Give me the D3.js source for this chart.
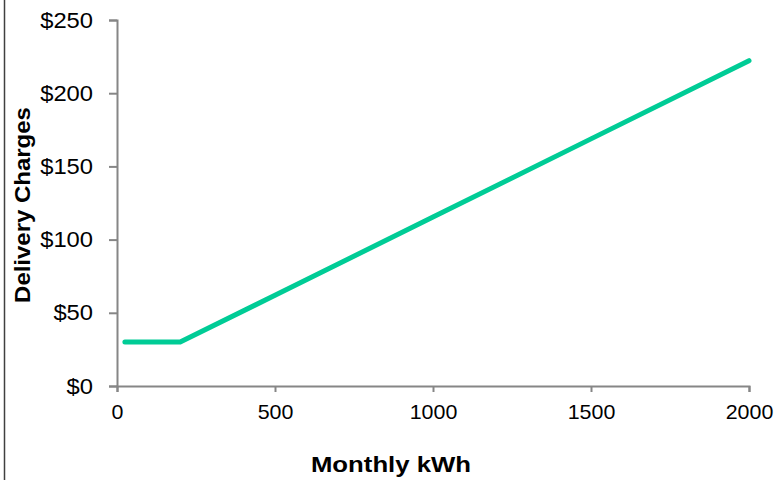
<!DOCTYPE html>
<html>
<head>
<meta charset="utf-8">
<script src="https://d3js.org/d3.v7.min.js"></script>
<style>
  body { margin: 0; background: #fff; }
  text { font-family: "Liberation Sans", Arial, sans-serif; fill: #000; }
</style>
</head>
<body>
<svg width="774" height="480"></svg>
<script>
// monthly usage (kWh) and delivery charge ($)
var kwh     = [25, 100, 200, 500, 1000, 1500, 2000];
var charges = [30, 30, 30, 62, 115.4, 168.8, 222.2];
var xTicks  = [0, 500, 1000, 1500, 2000];
var yTicks  = [0, 50, 100, 150, 200, 250];

var svg = d3.select("svg");

//frame line on the left
svg.append("line")
    .attr("x1", 4.5).attr("x2", 4.5)
    .attr("y1", 0).attr("y2", 480)
    .attr("stroke", "#404040")
    .attr("stroke-width", 1.5);

var x = d3.scaleLinear().domain([0, 2000]).range([117, 749]);
var y = d3.scaleLinear().domain([0, 250]).range([386, 20]);

var axisColor = "#868686";
var stretch = 1.08;   // the reference's type is a bit wider than Arial

//y axis
var gy = svg.append("g")
    .attr("transform", "translate(117,0)")
    .call(d3.axisLeft(y).tickValues(yTicks).tickSize(8).tickPadding(16)
      .tickFormat(function(d) { return "$" + d; }));

//x axis
var gx = svg.append("g")
    .attr("transform", "translate(0,386)")
    .call(d3.axisBottom(x).tickValues(xTicks).tickSize(6).tickPadding(12)
      .tickFormat(d3.format("d")));

[gx, gy].forEach(function(g) {
  g.select(".domain").attr("stroke", axisColor).attr("stroke-width", 2);
  g.selectAll(".tick line").attr("stroke", axisColor).attr("stroke-width", 2);
  g.selectAll(".tick text")
    .attr("font-family", "Liberation Sans, Arial, sans-serif")
    .attr("fill", "#000");
});
gy.selectAll(".tick text")
    .attr("font-size", 22)
    .attr("transform", "scale(" + stretch + ",1)")
    .attr("x", -24 / stretch);
gx.selectAll(".tick text")
    .attr("font-size", 21)
    .attr("transform", "scale(1.02,1)");

//the delivery charge line
var line = d3.line()
    .x(function(d, i) { return x(kwh[i]); })
    .y(function(d) { return y(d); });

svg.append("path")
    .datum(charges)
    .attr("d", line)
    .attr("fill", "none")
    .attr("stroke", "#00CC96")
    .attr("stroke-width", 5)
    .attr("stroke-linecap", "round")
    .attr("stroke-linejoin", "round");

//axis titles
svg.append("text")
    .attr("transform", "translate(391,472) scale(1.12,1)")
    .attr("text-anchor", "middle")
    .attr("font-size", 23)
    .attr("font-weight", "bold")
    .text("Monthly kWh");

svg.append("text")
    .attr("transform", "translate(30,205) rotate(-90) scale(1.09,1)")
    .attr("text-anchor", "middle")
    .attr("font-size", 22)
    .attr("font-weight", "bold")
    .text("Delivery Charges");
</script>
</body>
</html>
